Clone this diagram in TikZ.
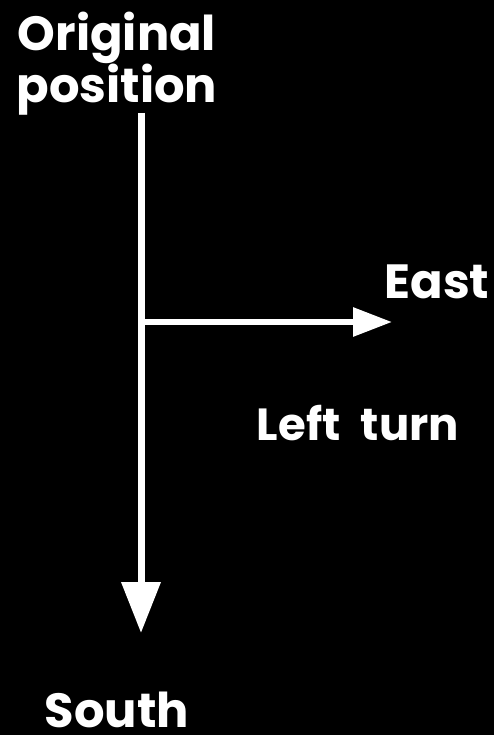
\documentclass[tikz,border=0pt]{standalone}
\usepackage{fontspec}
\setmainfont{Poppins}
\usetikzlibrary{arrows.meta}
\begin{document}
\begin{tikzpicture}[x=1pt,y=1pt,
  lbl/.style={text=white,font=\fontsize{48}{52}\selectfont\bfseries,inner sep=0pt,anchor=base},
  shaft/.style={draw=white,line width=7pt}]
\fill[black] (0,0) rectangle (494,-735);
\useasboundingbox (0,0) rectangle (494,-735);
\node[lbl,align=center] (orig) at (117,-103) {Original\\position};
\node[lbl] (east) at (437,-298) {East};
\node[lbl,font=\fontsize{45}{50}\selectfont\bfseries] (left) at (358,-440) {Left\hspace{0.45em}turn};
\node[lbl] (south) at (117,-727) {South};
\coordinate (top) at (141,-113);
\coordinate (down) at (141,-633);
\coordinate (mid) at (141,-322);
\coordinate (right) at (392,-322);
\draw[shaft,-{Triangle[width=38pt,length=51pt]}] (top) -- (down);
\draw[draw=white,line width=6pt,-{Triangle[width=28pt,length=39pt]}] (mid) -- (right);
\end{tikzpicture}
\end{document}
